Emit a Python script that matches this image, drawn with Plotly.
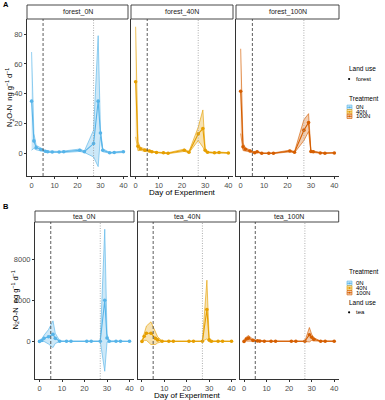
import plotly.graph_objects as go

# ---------------- data ----------------
days = [0, 1, 2, 4, 6, 7, 9, 12, 14, 21, 23, 27, 29, 30, 31, 34, 36, 40]

forest_0N_mean = [35, 8.3, 3.8, 2.5, 1.3, 1.0, 0.8, 0.8, 1.0, 2.0, 1.0, 6.5, 35, 13.6, 2.0, 0.3, 0.5, 1.0]
forest_0N_sd = [33, 5, 1.5, 1.0, 0.5, 0.5, 0.4, 0.4, 0.5, 0.8, 0.5, 9, 44, 2.5, 1.0, 0.3, 0.3, 0.5]
forest_40N_mean = [48, 4.7, 3.0, 2.0, 1.5, 1.0, 0.5, 0.3, 0.0, 2.0, 0.7, 13, 16.6, 2.0, 0.7, 0.3, 0.5, 0.2]
forest_40N_sd = [37, 3, 1.0, 0.8, 0.5, 0.5, 0.3, 0.3, 0.3, 0.8, 0.4, 4.5, 12.5, 1.0, 0.4, 0.3, 0.3, 0.2]
forest_100N_mean = [41.7, 4.3, 2.7, 1.5, 0.3, 1.0, 0.0, 0.0, 0.0, 1.5, 0.7, 15.5, 20.6, 1.2, 1.0, 0.2, 0.0, 0.2]
forest_100N_sd = [28.5, 2.5, 1.0, 0.6, 0.3, 0.5, 0.2, 0.2, 0.2, 0.6, 0.4, 7, 6, 0.8, 0.5, 0.2, 0.2, 0.2]

tea_0N_mean = [0, 100, 300, 450, 700, 300, 20, 10, 10, 10, 10, 10, 4000, 330, 20, 10, 10, 10]
tea_0N_sd = [30, 100, 300, 700, 1300, 500, 30, 10, 10, 10, 10, 10, 6900, 400, 30, 10, 10, 10]
tea_40N_mean = [0, 500, 800, 800, 300, 150, 20, 10, 10, 10, 10, 10, 3100, 150, 20, 10, 10, 10]
tea_40N_sd = [50, 400, 700, 1100, 600, 300, 30, 10, 10, 10, 10, 10, 2850, 200, 30, 10, 10, 10]
tea_100N_mean = [0, 230, 320, 100, 50, 30, 20, 10, 10, 10, 10, 10, 650, 400, 200, 20, 10, 10]
tea_100N_sd = [30, 200, 250, 100, 50, 30, 20, 10, 10, 10, 10, 10, 700, 300, 150, 20, 10, 10]

treatments = ["0N", "40N", "100N"]
forest_labels = ["forest_0N", "forest_40N", "forest_100N"]
tea_labels = ["tea_0N", "tea_40N", "tea_100N"]
x_ticks = [0, 10, 20, 30, 40]
forest_y_ticks = [0, 20, 40, 60, 80]
tea_y_ticks = [0, 4000, 8000]
dashed_day = 5
dotted_day = 27

# ---------------- style ----------------
colors = {"0N": (86, 180, 233), "40N": (230, 159, 0), "100N": (213, 94, 0)}
FONT = "Liberation Sans, Arial, sans-serif"
W, H = 385, 400


def rgba(c, a):
    return f"rgba({c[0]},{c[1]},{c[2]},{a})"


def px_x(p):
    return p / W


def px_y(p):
    return 1 - p / H


fig = go.Figure()

rows = [
    dict(labels=forest_labels,
         means=[forest_0N_mean, forest_40N_mean, forest_100N_mean],
         sds=[forest_0N_sd, forest_40N_sd, forest_100N_sd],
         xdom=[(27, 128), (131, 233), (236, 339)], ydom=(19, 176), strip=(5, 19),
         yticks=forest_y_ticks, yrange=[-15.3, 90.2], axis_offset=0),
    dict(labels=tea_labels,
         means=[tea_0N_mean, tea_40N_mean, tea_100N_mean],
         sds=[tea_0N_sd, tea_40N_sd, tea_100N_sd],
         xdom=[(35, 134), (137.5, 236), (239.5, 338.7)], ydom=(222, 379), strip=(211, 222),
         yticks=tea_y_ticks, yrange=[-3650, 11600], axis_offset=3),
]

shapes = []
annotations = []
layout_axes = {}

for r, row in enumerate(rows):
    for j in range(3):
        k = row["axis_offset"] + j + 1
        xa = "x" if k == 1 else f"x{k}"
        ya = "y" if k == 1 else f"y{k}"
        tr = treatments[j]
        c = colors[tr]
        m = row["means"][j]
        s = row["sds"][j]
        upper = [a + b for a, b in zip(m, s)]
        lower = [a - b for a, b in zip(m, s)]
        # ribbon
        fig.add_trace(go.Scatter(
            x=days + days[::-1], y=upper + lower[::-1], xaxis=xa, yaxis=ya,
            fill="toself", fillcolor=rgba(c, 0.3), mode="lines",
            line=dict(color=rgba(c, 0.9), width=0.7), hoverinfo="skip", showlegend=False))
        # mean
        fig.add_trace(go.Scatter(
            x=days, y=m, xaxis=xa, yaxis=ya, mode="lines+markers",
            line=dict(color=rgba(c, 1), width=1.1),
            marker=dict(color=rgba(c, 1), size=3.6), showlegend=False))

        x0, x1 = row["xdom"][j]
        y0, y1 = row["ydom"]
        xname = "xaxis" if k == 1 else f"xaxis{k}"
        yname = "yaxis" if k == 1 else f"yaxis{k}"
        layout_axes[xname] = dict(
            domain=[px_x(x0), px_x(x1)], anchor=ya, range=[-2, 42],
            tickvals=x_ticks, ticks="outside", ticklen=2, tickwidth=0.8, tickcolor="#333333",
            showline=True, linecolor="#333333", linewidth=0.9, showgrid=False, zeroline=False,
            tickfont=dict(size=7.5, color="#4D4D4D", family=FONT))
        layout_axes[yname] = dict(
            domain=[px_y(y1), px_y(y0)], anchor=xa, range=row["yrange"],
            tickvals=row["yticks"], ticks="outside" if j == 0 else "",
            ticklen=2, tickwidth=0.8, tickcolor="#333333",
            showticklabels=(j == 0), showline=True, linecolor="#333333", linewidth=0.9,
            showgrid=False, zeroline=False,
            tickfont=dict(size=7.5, color="#4D4D4D", family=FONT))

        # reference lines
        shapes.append(dict(type="line", xref=xa, yref=f"{ya} domain", x0=dashed_day, x1=dashed_day,
                           y0=0, y1=1, line=dict(color="#333333", width=0.8, dash="3px,2px")))
        shapes.append(dict(type="line", xref=xa, yref=f"{ya} domain", x0=dotted_day, x1=dotted_day,
                           y0=0, y1=1, line=dict(color="#999999", width=0.8, dash="1px,1.5px")))
        # strip
        s0, s1 = row["strip"]
        shapes.append(dict(type="rect", xref="paper", yref="paper",
                           x0=px_x(x0), x1=px_x(x1), y0=px_y(s1), y1=px_y(s0),
                           line=dict(color="#333333", width=0.9), fillcolor="white"))
        annotations.append(dict(text=row["labels"][j], xref="paper", yref="paper",
                                x=px_x((x0 + x1) / 2), y=px_y((s0 + s1) / 2),
                                showarrow=False, font=dict(size=7, color="#1A1A1A", family=FONT),
                                xanchor="center", yanchor="middle"))

# axis titles and panel tags
ytitle = "N<sub>2</sub>O-N  ng g<sup>−1</sup> d<sup>−1</sup>"
for (xp, yp) in [(9.5, 97.5), (14.5, 300)]:
    annotations.append(dict(text=ytitle, xref="paper", yref="paper", x=px_x(xp), y=px_y(yp),
                            textangle=-90, showarrow=False, xanchor="center", yanchor="middle",
                            font=dict(size=7.5, color="#000000", family=FONT)))
for (xp, yp) in [(182, 192), (187, 395)]:
    annotations.append(dict(text="Day of Experiment", xref="paper", yref="paper", x=px_x(xp), y=px_y(yp),
                            showarrow=False, xanchor="center", yanchor="middle",
                            font=dict(size=8, color="#000000", family=FONT)))
for (t, xp, yp) in [("A", 1, 5), ("B", 1, 207)]:
    annotations.append(dict(text=f"<b>{t}</b>", xref="paper", yref="paper", x=px_x(xp), y=px_y(yp),
                            showarrow=False, xanchor="left", yanchor="middle",
                            font=dict(size=7.5, color="#000000", family=FONT)))


# legends
def legend_title(text, yp):
    annotations.append(dict(text=text, xref="paper", yref="paper", x=px_x(346.5), y=px_y(yp),
                            showarrow=False, xanchor="left", yanchor="middle",
                            font=dict(size=6.5, color="#000000", family=FONT)))


def legend_label(text, yp):
    annotations.append(dict(text=text, xref="paper", yref="paper", x=px_x(354), y=px_y(yp),
                            showarrow=False, xanchor="left", yanchor="middle",
                            font=dict(size=6, color="#000000", family=FONT)))


def landuse_key(name, yp):
    shapes.append(dict(type="circle", xref="paper", yref="paper",
                       x0=px_x(348), x1=px_x(350.2), y0=px_y(yp + 1.1), y1=px_y(yp - 1.1),
                       fillcolor="black", line=dict(width=0)))
    legend_label(name, yp)


def treatment_keys(y_list):
    for tr, yp in zip(treatments, y_list):
        c = colors[tr]
        shapes.append(dict(type="rect", xref="paper", yref="paper",
                           x0=px_x(347), x1=px_x(352), y0=px_y(yp + 2.2), y1=px_y(yp - 2.2),
                           fillcolor=rgba(c, 0.3), line=dict(color=rgba(c, 0.9), width=0.7)))
        shapes.append(dict(type="line", xref="paper", yref="paper",
                           x0=px_x(347), x1=px_x(352), y0=px_y(yp), y1=px_y(yp),
                           line=dict(color=rgba(c, 1), width=0.8)))
        shapes.append(dict(type="circle", xref="paper", yref="paper",
                           x0=px_x(348.6), x1=px_x(350.4), y0=px_y(yp + 0.9), y1=px_y(yp - 0.9),
                           fillcolor=rgba(c, 1), line=dict(width=0)))
        legend_label(tr, yp)


legend_title("Land use", 68)
landuse_key("forest", 79)
legend_title("Treatment", 98)
treatment_keys([107.3, 111.8, 116.3])

legend_title("Treatment", 271)
treatment_keys([283.3, 288, 292.7])
legend_title("Land use", 302.7)
landuse_key("tea", 312.3)

fig.update_layout(
    width=W, height=H, margin=dict(l=0, r=0, t=0, b=0),
    paper_bgcolor="white", plot_bgcolor="white",
    showlegend=False, shapes=shapes, annotations=annotations,
    font=dict(family=FONT), **layout_axes)

fig.write_html(
    "out.html",
    config={"displayModeBar": False},
    post_script="document.body.style.margin='0px';document.body.style.padding='0px';"
                "document.documentElement.style.overflow='hidden';")
